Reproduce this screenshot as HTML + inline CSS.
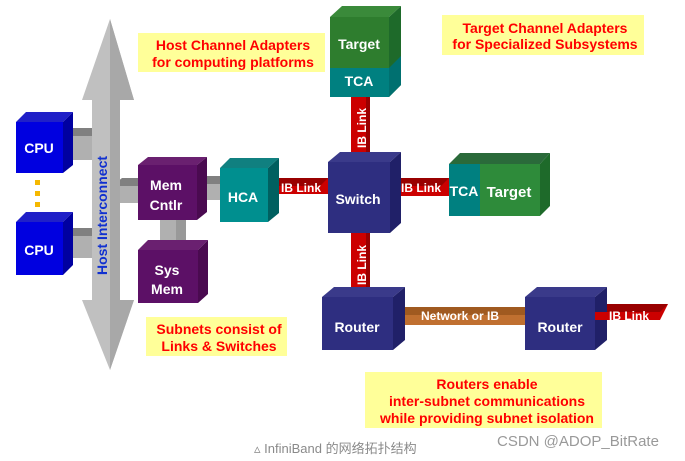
<!DOCTYPE html>
<html><head><meta charset="utf-8"><style>
body{margin:0;background:#fff;width:685px;height:461px;overflow:hidden}
svg{display:block}
text{font-family:"Liberation Sans",Arial,sans-serif;font-weight:bold}
</style></head><body>
<svg width="685" height="461" viewBox="0 0 685 461">
<rect x="138" y="33" width="187" height="39" fill="#ffff99"/>
<text x="233" y="50" fill="#f00" font-size="14" text-anchor="middle">Host Channel Adapters</text>
<text x="233" y="67" fill="#f00" font-size="14" text-anchor="middle">for computing platforms</text>
<rect x="442" y="15" width="202" height="40" fill="#ffff99"/>
<text x="545" y="33" fill="#f00" font-size="14" text-anchor="middle">Target Channel Adapters</text>
<text x="545" y="49" fill="#f00" font-size="14" text-anchor="middle">for Specialized Subsystems</text>
<rect x="146" y="317" width="141" height="39" fill="#ffff99"/>
<text x="219" y="334" fill="#f00" font-size="14" text-anchor="middle">Subnets consist of</text>
<text x="219" y="351" fill="#f00" font-size="14" text-anchor="middle">Links &amp; Switches</text>
<rect x="365" y="372" width="237" height="56" fill="#ffff99"/>
<text x="487" y="389" fill="#f00" font-size="14" text-anchor="middle">Routers enable</text>
<text x="487" y="406" fill="#f00" font-size="14" text-anchor="middle">inter-subnet communications</text>
<text x="487" y="423" fill="#f00" font-size="14" text-anchor="middle">while providing subnet isolation</text>

<polygon points="62,136 92,136 92,160 62,160" fill="#b0b0b0"/><polygon points="62,136 72,128 92,128 92,136" fill="#808080"/>
<polygon points="62,236 92,236 92,258 62,258" fill="#b0b0b0"/><polygon points="62,236 72,228 92,228 92,236" fill="#808080"/>
<polygon points="120,186 138,186 138,203 120,203" fill="#b0b0b0"/><polygon points="112,186 122,178 138,178 138,186" fill="#808080"/>
<polygon points="195,184 220,184 220,200 195,200" fill="#b0b0b0"/><polygon points="195,184 205,176 220,176 220,184" fill="#808080"/>
<rect x="160" y="220" width="22" height="32" fill="#b0b0b0"/><rect x="176" y="220" width="10" height="30" fill="#999"/>

<polygon points="110,19 82,100 92,100 92,300 82,300 110,370 134,300 120,300 120,100 134,100" fill="#c0c0c0"/>
<polygon points="110,19 134,100 120,100 120,300 134,300 110,370 110,300 110,100" fill="#a8a8a8"/>
<text transform="translate(107,275) rotate(-90)" fill="#1030d0" font-size="14">Host Interconnect</text>

<rect x="35" y="180" width="5" height="5" fill="#f5b800"/><rect x="35" y="191" width="5" height="5" fill="#f5b800"/><rect x="35" y="202" width="5" height="5" fill="#f5b800"/>

<rect x="351" y="97" width="19" height="58" fill="#c00"/><rect x="366" y="97" width="4" height="58" fill="#900"/>
<text transform="translate(366,148) rotate(-90)" fill="#fff" font-size="12">IB Link</text>
<rect x="351" y="233" width="19" height="58" fill="#c00"/><rect x="366" y="233" width="4" height="58" fill="#900"/>
<text transform="translate(366,285) rotate(-90)" fill="#fff" font-size="12">IB Link</text>
<polygon points="268,186 276,178 328,178 328,194 268,194" fill="#c00"/><polygon points="268,186 276,178 328,178 320,186" fill="#900"/>
<text x="281" y="192" fill="#fff" font-size="12">IB Link</text>
<polygon points="390,186 398,178 449,178 449,196 390,196" fill="#c00"/><polygon points="390,186 398,178 449,178 441,186" fill="#900"/>
<text x="401" y="192" fill="#fff" font-size="12">IB Link</text>
<rect x="392" y="307" width="135" height="18" fill="#c07030"/><polygon points="392,315 400,307 527,307 527,315" fill="#a05a20"/>
<text x="460" y="320" fill="#fff" font-size="12" text-anchor="middle">Network or IB</text>
<polygon points="595,312 605,304 668,304 660,320 595,320" fill="#c00"/><polygon points="595,312 605,304 668,304 660,312" fill="#900"/>

<polygon points="16,122 26,112 73,112 63,122" fill="#2020c8"/><polygon points="63,122 73,112 73,165 63,173" fill="#0000a0"/><rect x="16" y="122" width="47" height="51" fill="#0000e0"/>
<text x="39" y="153" fill="#fff" font-size="14" text-anchor="middle">CPU</text>
<polygon points="16,222 26,212 73,212 63,222" fill="#2020c8"/><polygon points="63,222 73,212 73,265 63,275" fill="#0000a0"/><rect x="16" y="222" width="47" height="53" fill="#0000e0"/>
<text x="39" y="255" fill="#fff" font-size="14" text-anchor="middle">CPU</text>
<polygon points="138,165 148,157 207,157 197,165" fill="#6a2070"/><polygon points="197,165 207,157 207,212 197,220" fill="#4a0a50"/><rect x="138" y="165" width="59" height="55" fill="#5c1066"/>
<text x="166" y="190" fill="#fff" font-size="14" text-anchor="middle">Mem</text><text x="166" y="210" fill="#fff" font-size="14" text-anchor="middle">Cntlr</text>
<polygon points="138,250 148,240 208,240 198,250" fill="#6a2070"/><polygon points="198,250 208,240 208,294 198,303" fill="#4a0a50"/><rect x="138" y="250" width="60" height="53" fill="#5c1066"/>
<text x="167" y="275" fill="#fff" font-size="14" text-anchor="middle">Sys</text><text x="167" y="294" fill="#fff" font-size="14" text-anchor="middle">Mem</text>
<polygon points="220,168 230,158 279,158 268,168" fill="#108080"/><polygon points="268,168 279,158 279,213 268,222" fill="#006060"/><rect x="220" y="168" width="48" height="54" fill="#008f8f"/>
<text x="243" y="202" fill="#fff" font-size="14" text-anchor="middle">HCA</text>
<polygon points="328,162 340,152 401,152 390,162" fill="#3a3a8a"/><polygon points="390,162 401,152 401,223 390,233" fill="#202068"/><rect x="328" y="162" width="62" height="71" fill="#2e2e80"/>
<text x="358" y="204" fill="#fff" font-size="14" text-anchor="middle">Switch</text>
<polygon points="330,17 342,6 401,6 389,17" fill="#3a8a3a"/><polygon points="389,17 401,6 401,85 389,97" fill="#1e6a2a"/>
<polygon points="389,68 401,56 401,85 389,97" fill="#007070"/>
<rect x="330" y="17" width="59" height="51" fill="#2e7d2e"/><rect x="330" y="68" width="59" height="29" fill="#008080"/>
<text x="359" y="49" fill="#fff" font-size="14" text-anchor="middle">Target</text>
<text x="359" y="86" fill="#fff" font-size="14" text-anchor="middle">TCA</text>
<polygon points="449,164 460,153 550,153 540,164" fill="#2a6a3a"/><polygon points="540,164 550,153 550,206 540,216" fill="#1e6a2a"/>
<rect x="449" y="164" width="31" height="52" fill="#008080"/><rect x="480" y="164" width="60" height="52" fill="#2e8b3a"/>
<text x="464" y="196" fill="#fff" font-size="14" text-anchor="middle">TCA</text>
<text x="509" y="197" fill="#fff" font-size="15" text-anchor="middle">Target</text>
<polygon points="322,297 334,287 405,287 393,297" fill="#3a3a8a"/><polygon points="393,297 405,287 405,340 393,350" fill="#202068"/><rect x="322" y="297" width="71" height="53" fill="#2e2e80"/>
<text x="357" y="332" fill="#fff" font-size="14" text-anchor="middle">Router</text>
<polygon points="525,297 537,287 607,287 595,297" fill="#3a3a8a"/><polygon points="595,297 607,287 607,340 595,350" fill="#202068"/><rect x="525" y="297" width="70" height="53" fill="#2e2e80"/>
<text x="560" y="332" fill="#fff" font-size="14" text-anchor="middle">Router</text>
<rect x="595" y="312" width="12" height="8" fill="#c00"/>
<text x="609" y="320" fill="#fff" font-size="12">IB Link</text>

<text x="254" y="453" fill="#8a8a8a" font-size="13" style="font-weight:normal;font-family:'Liberation Sans','Noto Sans CJK SC',sans-serif">▵ InfiniBand 的网络拓扑结构</text>
<text x="497" y="446" fill="#999" font-size="15" style="font-weight:normal">CSDN @ADOP_BitRate</text>
</svg>
</body></html>
